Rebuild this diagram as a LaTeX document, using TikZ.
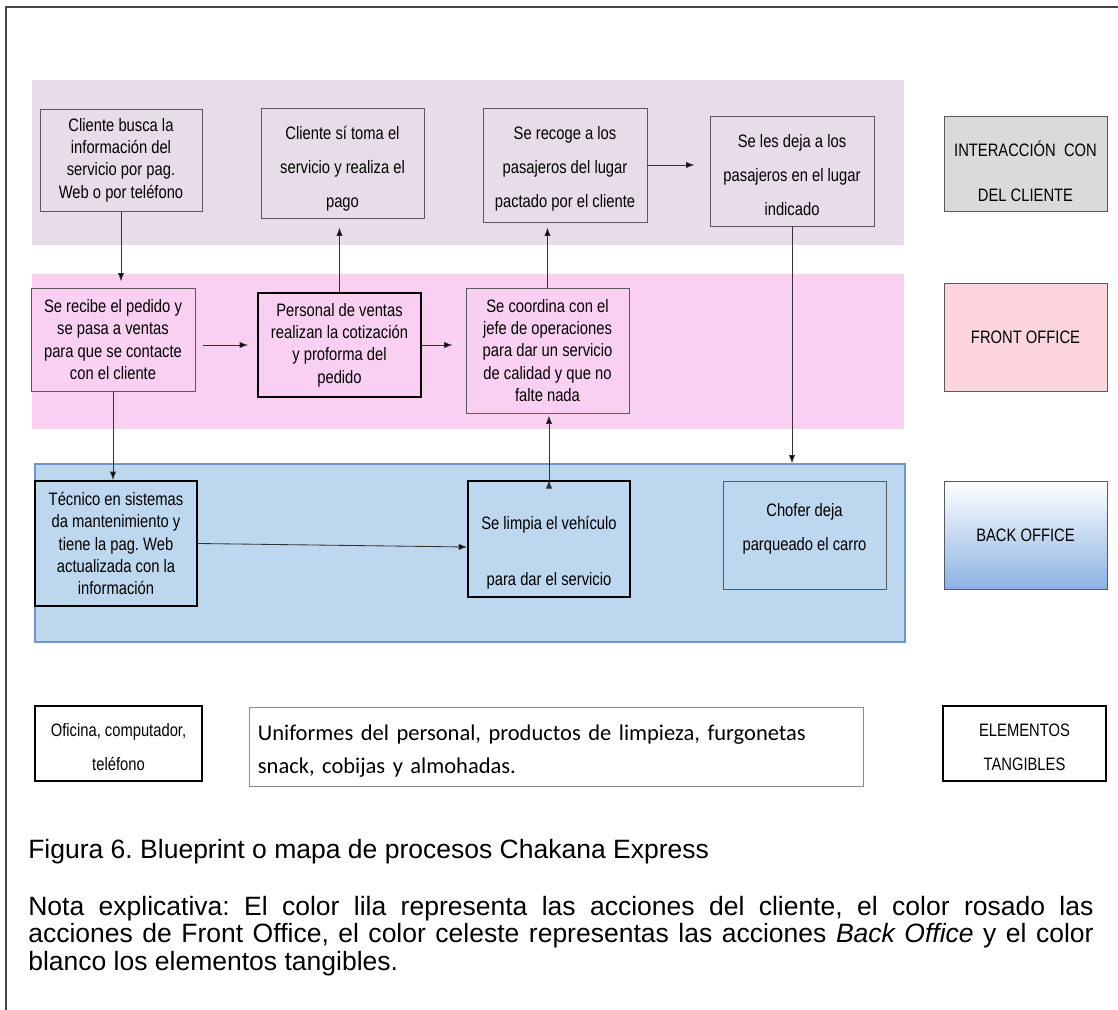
\documentclass[tikz,border=0pt]{standalone}
\usepackage{fontspec}
\setmainfont{Liberation Sans}
\newfontfamily\narrowfont{Liberation Sans}[FakeStretch=0.82]
\newfontfamily\calibrifont{Carlito}
\usepackage{xcolor}
\usetikzlibrary{arrows.meta}
\frenchspacing

\definecolor{framegray}{RGB}{70,70,70}
\definecolor{boxgray}{RGB}{90,90,90}
\definecolor{lilafill}{RGB}{231,221,232}
\definecolor{pinkfill}{RGB}{250,208,242}
\definecolor{bluefill}{RGB}{189,215,238}
\definecolor{blueedge}{RGB}{110,150,205}
\definecolor{labelgray}{RGB}{218,218,218}
\definecolor{labelpink}{RGB}{252,213,221}
\definecolor{gradblue}{RGB}{140,178,226}

\begin{document}
\begin{tikzpicture}[->, >={Latex[length=6pt,width=4.5pt]}, x=0.025cm, y=-0.025cm, inner sep=0pt,
    area/.style n args={4}{at={({(#1+#3)/2},{(#2+#4)/2})},
      minimum width={(#3-#1)*0.025cm}, minimum height={(#4-#2)*0.025cm}},
    lane/.style={draw=none},
    box/.style={draw=boxgray, line width=0.6pt, align=center, font=\narrowfont\fontsize{12.8}{15.9}\selectfont},
    loose/.style={font=\narrowfont\fontsize{12.8}{24.2}\selectfont},
    thickbox/.style={draw=black, line width=1.2pt},
    arrowline/.style={draw=black!80, line width=0.6pt}]

  \useasboundingbox (0,0) rectangle (1118,1010);
  \draw[-, line width=0.9pt, framegray] (6,1010) -- (6,7) -- (1118,7);

  % lanes
  \node[lane, fill=lilafill, area={32}{80}{904}{245}] (clientlane) {};
  \node[lane, fill=pinkfill, area={32}{274}{904}{429}] (frontlane) {};
  \node[lane, fill=bluefill, draw=blueedge, line width=0.8pt, area={35}{464}{905}{642}] (backlane) {};

  % acciones del cliente
  \node[box, area={40}{109}{202}{211}] (s1) {Cliente busca la\\información del\\servicio por pag.\\Web o por teléfono};
  \node[box, loose, area={261}{108}{424}{218}] (s2) {\rule{0pt}{17.8pt}Cliente sí toma el\\servicio y realiza el\\pago};
  \node[box, loose, area={483}{108}{647}{222}] (s3) {\rule{0pt}{15pt}Se recoge a los\\pasajeros del lugar\\pactado por el cliente};
  \node[box, loose, area={710}{116}{874}{226}] (s4) {\rule{0pt}{15pt}Se les deja a los\\pasajeros en el lugar\\indicado};

  % front office
  \node[box, area={31}{288}{195}{391}] (f1) {Se recibe el pedido y\\se pasa a ventas\\para que se contacte\\con el cliente};
  \node[box, thickbox, area={258}{293}{421}{397}] (f2) {Personal de ventas\\realizan la cotización\\y proforma del\\pedido};
  \node[box, area={466}{288}{629}{413}] (f3) {Se coordina con el\\jefe de operaciones\\para dar un servicio\\de calidad y que no\\falte nada};

  % back office
  \node[box, thickbox, area={35}{481}{197}{606}] (b1) {Técnico en sistemas\\da mantenimiento y\\tiene la pag. Web\\actualizada con la\\información};
  \node[box, thickbox, loose, area={468}{481}{630}{597}] (b2) {\rule{0pt}{29.2pt}Se limpia el vehículo\\[15.6pt]para dar el servicio};
  \node[box, loose, area={723}{481}{886}{589}] (b3) {Chofer deja\\parqueado el carro\rule[-11.2pt]{0pt}{0pt}};

  % etiquetas
  \node[box, fill=labelgray, font=\narrowfont\fontsize{12.8}{32}\selectfont, area={944}{116}{1107}{211}] (lcliente) {\rule{0pt}{21.5pt}INTERACCIÓN\ \ CON\\DEL CLIENTE};
  \node[box, fill=labelpink, area={944}{283}{1107}{391}] (lfront) {FRONT OFFICE};
  \node[box, top color=white, bottom color=gradblue, area={944}{481}{1107}{589}] (lback) {BACK OFFICE};

  % elementos tangibles
  \node[box, thickbox, loose, area={35}{706}{202}{781}] (t1) {\rule{0pt}{15pt}Oficina, computador,\\teléfono};
  \node[box, draw=black!45, text width=14.9cm, align=left, font=\calibrifont\fontsize{16}{23.5}\selectfont, area={249}{707}{863}{786}] (t2) {\rule{0pt}{17.7pt}Uniformes del personal, productos de limpieza, furgonetas\\snack, cobijas y almohadas.};
  \node[box, thickbox, loose, area={943}{706}{1106}{781}] (ltang) {\rule{0pt}{15pt}ELEMENTOS\\TANGIBLES};

  \path[arrowline]
    (s1.south) edge[shorten >=4.3pt] (s1.south |- f1.north)
    (f1.east |- f2.west) edge[shorten <=5.7pt, shorten >=6.4pt] (f2.west)
    (f2.north) edge[shorten >=6.4pt] (f2.north |- s2.south)
    (f2.east) edge[shorten >=9.2pt] (f3.west |- f2.east)
    (f3.north) edge[shorten >=3.6pt] (f3.north |- s3.south)
    (s3.east) edge[shorten >=10.7pt] (s4.west |- s3.east)
    (s4.south) edge (s4.south |- backlane.north)
    (f1.south) edge (f1.south |- b1.north)
    (b1.east) edge ([yshift=-2mm]b2.west)
    (b2.north) edge[shorten >=1.4pt] (b2.north |- f3.south);

  % pie de figura
  \node[anchor=base west, font=\fontsize{18.85}{19.9}\selectfont] (caption) at (28,858) {Figura 6. Blueprint o mapa de procesos Chakana Express};
  \node[anchor=base west, text width=26.625cm, align=justify, font=\fontsize{18.85}{19.9}\selectfont] (nota) at (28,915) {Nota explicativa: El color lila representa las acciones del cliente, el color rosado las\linebreak acciones de Front Office, el color celeste representas las acciones \textit{Back Office} y el color\linebreak blanco los elementos tangibles.};
\end{tikzpicture}
\end{document}
